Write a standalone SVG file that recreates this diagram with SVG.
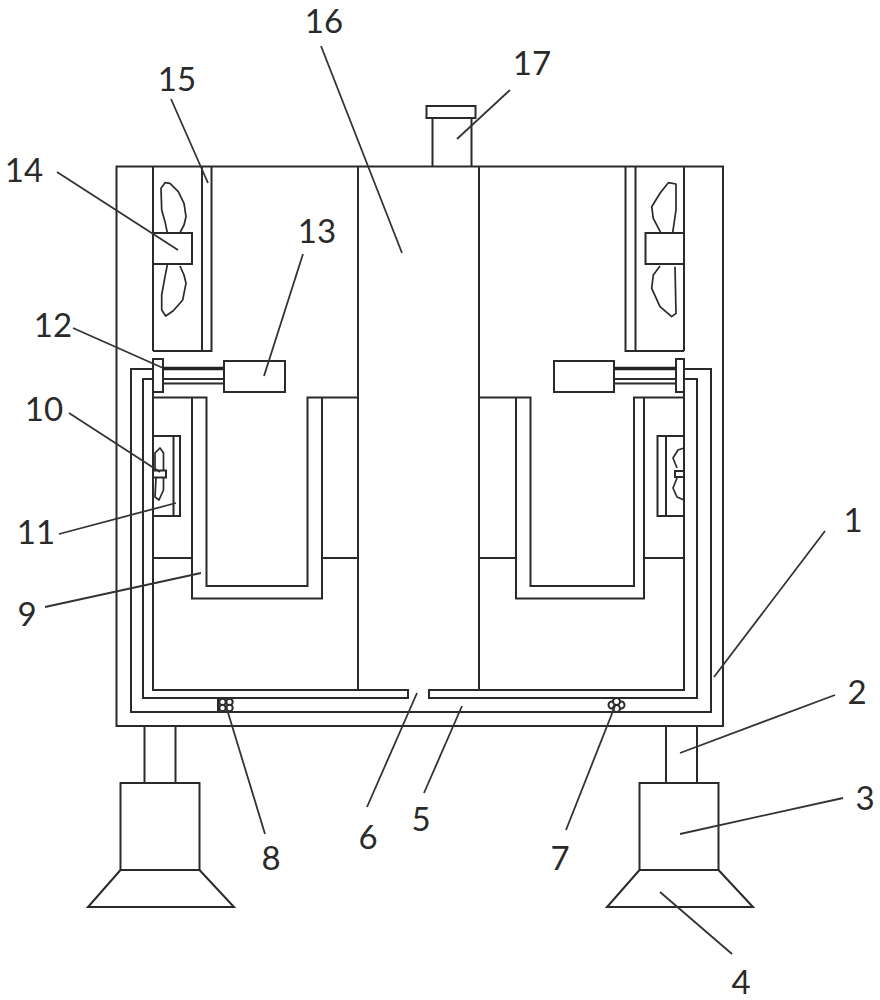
<svg xmlns="http://www.w3.org/2000/svg" width="880" height="1000" viewBox="0 0 880 1000">
<style>
.s{fill:none;stroke:#2a2a2a;stroke-width:2}
.v{fill:#fff;stroke:#2a2a2a;stroke-width:2}
.b{fill:none;stroke:#2a2a2a;stroke-width:1.700;stroke-linejoin:round}
.l{fill:none;stroke:#333;stroke-width:1.800}
text{font-family:"Lato","Liberation Sans",Arial,sans-serif;font-size:33px;fill:#2a2a2a;text-anchor:middle}
</style>
<rect width="880" height="1000" fill="#fff"/>
<g id="chimney"><path class="s" d="M432.500 166V118M471.500 166V118"/><rect class="s" x="426.500" y="106" width="49" height="12"/></g>
<g id="leg-left"><path class="s" d="M144.500 726V783M175.500 726V783"/><rect class="s" x="120.500" y="783" width="79" height="87"/><path class="s" d="M120.500 870L88 907H234L199.500 870"/></g>
<g id="leg-right"><path class="s" d="M666 726V783M697 726V783"/><rect class="s" x="639.500" y="783" width="79" height="87"/><path class="s" d="M639.500 870L607 907H753L718.500 870"/></g>
<g id="body">
<rect class="s" x="116.500" y="166.500" width="606.500" height="559.500"/>
<path class="s" d="M358 166V690M479 166V690"/>
<path class="s" d="M153 166V351M684 166V351M153 392V690H408V698H143V379H153M684 392V690H429V698H697V379H684"/>
<path class="s" d="M153 369H131V712H711V369H684"/>
</g>
<g id="fan-left-upper"><path class="s" d="M202 166V351M211.500 166V351H153"/><rect class="s" x="153" y="233" width="39" height="31"/>
<path class="b" d="M167.300 232.700L165 221.700L161.700 210L161 188.300L165 182.700L170 183.300L178.300 191.700L184 203.300L186 216.700L184 225L180 232.700"/>
<path class="b" d="M167.300 265L165 276.700L161.700 295L161.700 310L165.700 316L173.300 310.700L182.700 300L186 283.300L184 275L180 266"/></g>
<g id="fan-right-upper"><path class="s" d="M635.500 166V351M625.500 166V351H684"/><rect class="s" x="645.500" y="233" width="38.500" height="31"/>
<path class="b" d="M660.700 232.700L653.300 218.300L651.700 206.700L660 193.300L668.300 182.700L676 184L676 210L672.700 232.700"/>
<path class="b" d="M660 266L653.300 275L651.700 288.300L660 306.700L671.700 316.700L676 313.300L675 266.700"/></g>
<g id="actuator-left"><rect class="s" x="153" y="359" width="10" height="33"/><path d="M163 368.500H224" stroke="#222" stroke-width="3.500" fill="none"/><path class="s" d="M163 379H224M163 383.500H224"/><rect class="s" x="224" y="361" width="61" height="31"/></g>
<g id="actuator-right"><rect class="s" x="676" y="359" width="8" height="33"/><path d="M614 368.500H676" stroke="#222" stroke-width="3.500" fill="none"/><path class="s" d="M614 379H676M614 383.500H676"/><rect class="s" x="554" y="361" width="60" height="31"/></g>
<g id="trough-left"><path class="s" d="M153 397.500H206.500V586H307.500V397.500H358M192 397.500V598.500H322V397.500M153 558H192M322 558H358"/></g>
<g id="trough-right"><path class="s" d="M479 397.500H530.500V586H634V397.500H684M516 397.500V598.500H644V397.500M479 558H516M644 558H684"/></g>
<g id="fan-left-lower"><path class="s" d="M153 436H180V516H153M173.500 436V516"/><rect class="s" x="153" y="470.500" width="13" height="7"/>
<path class="b" d="M155 470V453L160 448L163.500 453V470M156 478L155 497L159 500L163.500 490V478"/></g>
<g id="fan-right-lower"><path class="s" d="M684 436H657.500V516H684M666 436V516"/><rect class="s" x="675" y="471" width="9" height="6"/>
<path class="b" d="M684 448L678 450L673 458L677 468M677 478L673 488L677 497L684 500"/></g>
<g id="valve-left"><path class="s" d="M218 698V712"/><circle class="v" cx="222.500" cy="702" r="3.200"/><circle class="v" cx="229.500" cy="702" r="3.200"/><circle class="v" cx="222.500" cy="708" r="3.200"/><circle class="v" cx="229.500" cy="708" r="3.200"/></g>
<g id="valve-right"><circle class="v" cx="612" cy="705" r="3.500"/><circle class="v" cx="621" cy="705" r="3.500"/><circle class="v" cx="616.500" cy="701.500" r="3.500"/><circle class="v" cx="616.500" cy="708.500" r="3.500"/></g>
<g id="leaders">
<path class="l" d="M825 531L714 677M835 695L680 753M843 798L680 834M732 954L660 892M424 793L462 706M367 807L417 693M566 830L615 706M265 834L226 706M45 607L201 573M59 534L176 503M69 413L160 472M73 328L163 368M303 254L264 376M57 172L178 250M171 99L208 183M321 46L402 253M510 90L457 139"/>
</g>
<g id="labels">
<text x="853" y="532">1</text><text x="857" y="704">2</text><text x="865" y="810">3</text><text x="741" y="994">4</text><text x="421" y="831">5</text><text x="368" y="849">6</text><text x="560" y="870">7</text><text x="271" y="870">8</text><text x="27" y="626">9</text><text x="44" y="421">10</text><text x="36" y="544">11</text><text x="53" y="337">12</text><text x="317" y="243">13</text><text x="24" y="182">14</text><text x="177" y="91">15</text><text x="324" y="33">16</text><text x="532" y="75">17</text>
</g>
</svg>
